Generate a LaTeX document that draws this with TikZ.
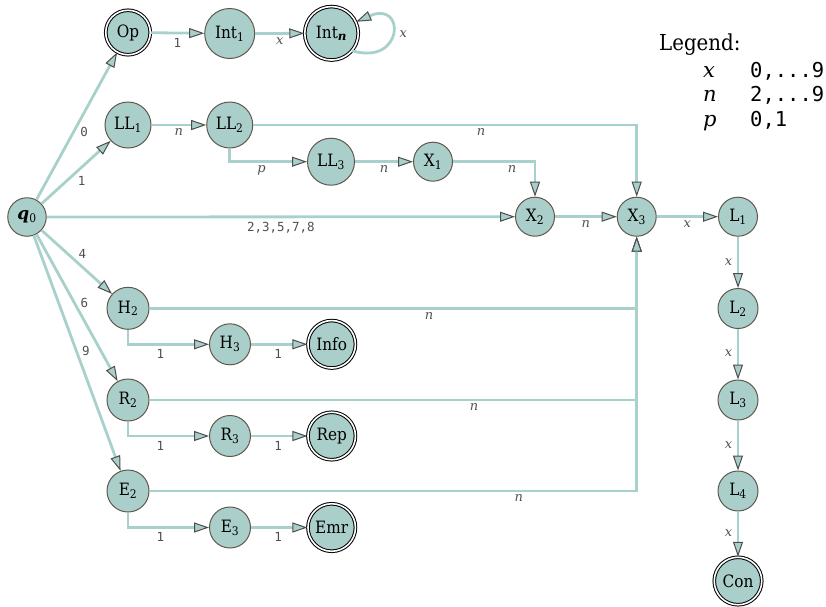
\documentclass[tikz,border=0pt]{standalone}
\usepackage{fontspec}
\setmainfont{DejaVu Serif Condensed}
\newfontfamily\monof{DejaVu Sans Mono}
\newfontfamily\itf{DejaVu Serif}
\newcommand{\subs}[1]{\textsubscript{#1}}
\usetikzlibrary{arrows.meta}
\definecolor{nodefill}{HTML}{AACFCA}
\definecolor{edgecol}{HTML}{A9D1CC}
\definecolor{nodeborder}{HTML}{5F584C}
\definecolor{tipdraw}{HTML}{4D4D4D}
\definecolor{lblgray}{HTML}{505050}
\begin{document}
\begin{tikzpicture}[x=1pt,y=-1pt,
  st/.style={circle, draw=nodeborder, line width=1pt, fill=nodefill, inner sep=0pt,
    font=\fontsize{17}{19}\selectfont, text=black},
  acc/.style={st, draw=black, double=white, double distance=1.6pt, line width=1pt},
  edge/.style={draw=edgecol, line width=2.8pt,
    -{Triangle[length=15pt,width=10pt,line width=1pt,color=tipdraw,fill=nodefill]}},
  ml/.style={font=\itf\itshape\fontsize{13}{14}\selectfont, text=lblgray, inner sep=1pt},
  dl/.style={font=\monof\fontsize{12.5}{13}\selectfont, text=lblgray, inner sep=1.5pt},
]
\useasboundingbox (0,0) rectangle (826,606);

% states
\node[st, minimum size=38.5pt] (q0) at (27,217) {{\itf\itshape\bfseries q}\subs{0}};
\node[acc, minimum size=44.5pt] (op) at (128,32.5) {Op};
\node[st, minimum size=50pt] (int1) at (229.7,33.5) {Int\subs{1}};
\node[acc, minimum size=53.5pt] (intn) at (331.5,33.3) {Int\subs{\itf\itshape\bfseries n}};
\node[st, minimum size=46pt] (ll1) at (128,125) {LL\subs{1}};
\node[st, minimum size=46pt] (ll2) at (229.7,125) {LL\subs{2}};
\node[st, minimum size=47pt] (ll3) at (331,161.7) {LL\subs{3}};
\node[st, minimum size=39pt] (x1) at (433,161.7) {X\subs{1}};
\node[st, minimum size=39pt] (x2) at (535,216.7) {X\subs{2}};
\node[st, minimum size=39pt] (x3) at (636.7,216.7) {X\subs{3}};
\node[st, minimum size=39pt] (l1) at (738,216.7) {L\subs{1}};
\node[st, minimum size=40pt] (l2) at (738,308.5) {L\subs{2}};
\node[st, minimum size=40pt] (l3) at (738,400) {L\subs{3}};
\node[st, minimum size=40pt] (l4) at (738,491) {L\subs{4}};
\node[acc, minimum size=47.5pt] (con) at (738,581) {Con};
\node[st, minimum size=42pt] (h2) at (128,308.3) {H\subs{2}};
\node[st, minimum size=41pt] (h3) at (230,344.3) {H\subs{3}};
\node[acc, minimum size=47.5pt] (info) at (331.7,344.3) {Info};
\node[st, minimum size=42pt] (r2) at (128,400) {R\subs{2}};
\node[st, minimum size=41pt] (r3) at (230,436) {R\subs{3}};
\node[acc, minimum size=47.5pt] (rep) at (331.7,436) {Rep};
\node[st, minimum size=42pt] (e2) at (128,491) {E\subs{2}};
\node[st, minimum size=41pt] (e3) at (230,527.5) {E\subs{3}};
\node[acc, minimum size=47.5pt] (emr) at (331.7,527.5) {Emr};

% edges from q0
\draw[edge] (q0) -- node[dl, pos=0.46, right=4pt] {0} (op);
\draw[edge] (q0) -- node[dl, pos=0.58, below=6pt] {1} (ll1);
\draw[edge] (q0) -- node[dl, pos=0.5, below=2pt] {2,3,5,7,8} (x2);
\draw[edge] (q0) -- node[dl, pos=0.58, above=6pt] {4} (h2);
\draw[edge] (q0) -- node[dl, pos=0.47, right=3pt] {6} (r2);
\draw[edge] (q0) -- node[dl, pos=0.49, right=3pt] {9} (e2);

% top row
\draw[edge] (op) -- node[dl, pos=0.5, below=2pt] {1} (int1);
\draw[edge] (int1) -- node[ml, pos=0.5, below=2pt] {x} (intn);
\draw[edge] (intn.-40) .. controls (404,66) and (406,0) .. node[ml, pos=0.5, right=5pt] {x} (intn.25);

% LL branch
\draw[edge] (ll1) -- node[ml, pos=0.5, below=1.5pt] {n} (ll2);
\draw[edge] (ll2) |- node[ml, pos=0.706, below=1.5pt] {p} (ll3);
\draw[edge] (ll2) -| node[ml, pos=0.297, below=1.5pt] {n} (x3);
\draw[edge] (ll3) -- node[ml, pos=0.5, below=1.5pt] {n} (x1);
\draw[edge] (x1) -| node[ml, pos=0.36, below=1.5pt] {n} (x2);
\draw[edge] (x2) -- node[ml, pos=0.5, below=1.5pt] {n} (x3);
\draw[edge] (x3) -- node[ml, pos=0.5, below=1.5pt] {x} (l1);

% L column
\draw[edge] (l1) -- node[ml, pos=0.5, left=3.5pt] {x} (l2);
\draw[edge] (l2) -- node[ml, pos=0.47, left=3.5pt] {x} (l3);
\draw[edge] (l3) -- node[ml, pos=0.5, left=3.5pt] {x} (l4);
\draw[edge] (l4) -- node[ml, pos=0.47, left=3.5pt] {x} (con);

% H, R, E branches
\draw[edge] (h2) -| node[ml, pos=0.287, below=1.5pt] {n} (x3);
\draw[edge] (r2) -| node[ml, pos=0.333, below=1.5pt] {n} (x3);
\draw[edge] (e2) -| node[ml, pos=0.379, below=1.5pt] {n} (x3);
\draw[edge] (h2) |- node[dl, pos=0.70, below=2pt] {1} (h3);
\draw[edge] (h3) -- node[dl, pos=0.48, below=2pt] {1} (info);
\draw[edge] (r2) |- node[dl, pos=0.70, below=2pt] {1} (r3);
\draw[edge] (r3) -- node[dl, pos=0.48, below=2pt] {1} (rep);
\draw[edge] (e2) |- node[dl, pos=0.70, below=2pt] {1} (e3);
\draw[edge] (e3) -- node[dl, pos=0.48, below=2pt] {1} (emr);

% legend
\node[anchor=base west, inner sep=0pt, font=\fontsize{22}{24}\selectfont] (leg) at (659,50) {Legend:};
\node[anchor=base west, inner sep=0pt, font=\itf\itshape\fontsize{21}{24}\selectfont] (lx) at (703,77) {x};
\node[anchor=base west, inner sep=0pt, font=\monof\fontsize{20.5}{22}\selectfont] (lxv) at (750,77) {0,...9};
\node[anchor=base west, inner sep=0pt, font=\itf\itshape\fontsize{21}{24}\selectfont] (ln) at (703,101.7) {n};
\node[anchor=base west, inner sep=0pt, font=\monof\fontsize{20.5}{22}\selectfont] (lnv) at (750,101.7) {2,...9};
\node[anchor=base west, inner sep=0pt, font=\itf\itshape\fontsize{21}{24}\selectfont] (lp) at (703,126.5) {p};
\node[anchor=base west, inner sep=0pt, font=\monof\fontsize{20.5}{22}\selectfont] (lpv) at (750,126.5) {0,1};
\end{tikzpicture}
\end{document}
